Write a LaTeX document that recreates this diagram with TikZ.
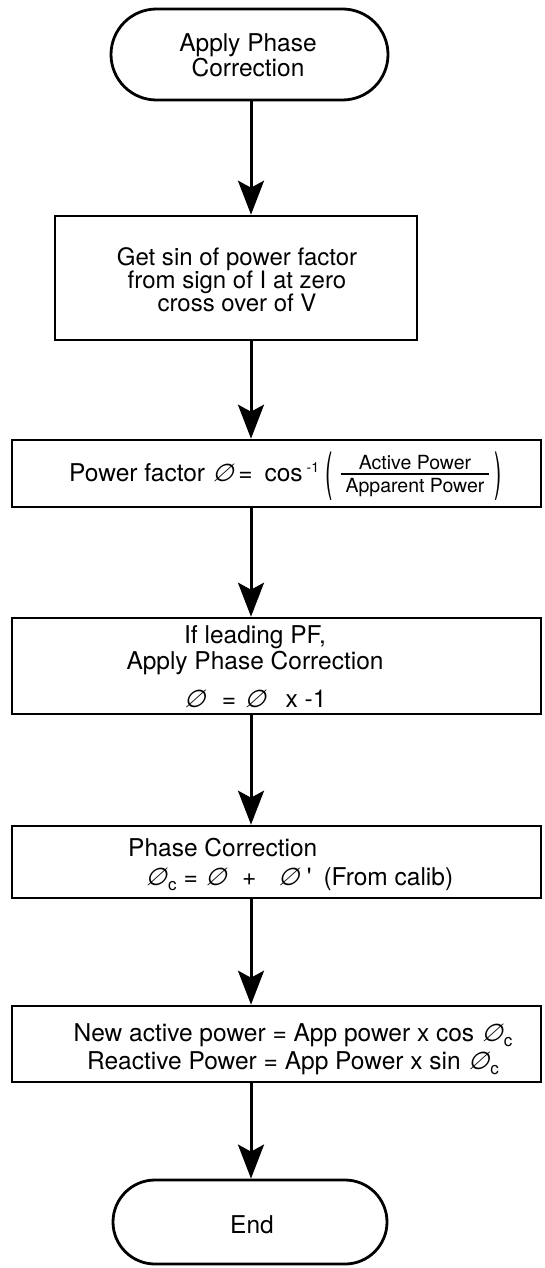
\documentclass[tikz,border=0pt]{standalone}
\usepackage{fontspec}
\setmainfont{TeX Gyre Heros}
\newfontfamily\phifont[FakeSlant=0.3]{DejaVu Sans}
\usetikzlibrary{shapes.misc,arrows.meta}
\newcommand\phis{{\phifont ∅}}
\newcommand\subc{\kern1.5pt\raisebox{-5pt}{\fontsize{17}{17}\selectfont c}}
\begin{document}
\begin{tikzpicture}[x=1pt,y=-1pt,
  box/.style={draw, line width=2.6pt, inner sep=0pt},
  term/.style={draw, line width=2.8pt, rounded rectangle, inner sep=0pt},
  txt/.style={font=\fontsize{24.5}{25}\selectfont, inner sep=0pt, align=center},
  frc/.style={font=\fontsize{19.5}{10}\selectfont, inner sep=0pt},
  paren/.style={font=\fontsize{24.5}{25}\selectfont, inner sep=0pt},
  arr/.style={line width=3pt, -{Stealth[length=34pt,width=26pt,inset=7pt]}}]
\useasboundingbox (0,0) rectangle (544,1268);
\coordinate (col) at (251,0);
% shapes
\node[term, minimum width=277pt, minimum height=91pt] (start) at (249.5,54.5) {};
\node[box, minimum width=362pt, minimum height=124pt] (b1) at (236,278) {};
\node[box, minimum width=529pt, minimum height=67pt] (b2) at (276.5,473.5) {};
\node[box, minimum width=529pt, minimum height=96pt] (b3) at (276.5,666) {};
\node[box, minimum width=529pt, minimum height=72pt] (b4) at (276.5,862) {};
\node[box, minimum width=529pt, minimum height=76pt] (b5) at (276.5,1044) {};
\node[term, minimum width=274pt, minimum height=84pt] (end) at (250,1222) {};
% texts
\node[txt] (t0) at (248,55.5) {Apply Phase\\Correction};
\node[txt, font=\fontsize{24}{23}\selectfont] (t1) at (237,280) {Get sin of power factor\\from sign of I at zero\\cross over of V};
\node[txt, anchor=west] (t2) at (69,472) {Power factor \phis\hspace{5pt}=\hspace{12pt}cos\hspace{4pt}\raisebox{9pt}{\fontsize{14}{14}\selectfont -1}};
\node[paren] (t2l) at (329,476) {\scalebox{0.9}[2.1]{(}};
\node[frc] (t2f) at (415,476) {\setlength\arrayrulewidth{2.2pt}\setlength\tabcolsep{5pt}\begin{tabular}{c}Active Power\\\hline\rule{0pt}{17pt}Apparent Power\end{tabular}};
\node[paren] (t2r) at (498,476) {\scalebox{0.9}[2.1]{)}};
\node[txt, font=\fontsize{24.5}{26}\selectfont] (t3) at (255,667) {If leading PF,\\Apply Phase Correction\\[12pt]\phis\hspace{17pt}=\hspace{8pt}\phis\hspace{20pt}x -1};
\node[txt, anchor=west] (t4a) at (128,848) {Phase Correction};
\node[txt, anchor=west] (t4b) at (145,879) {\phis\subc\hspace{7pt}=\hspace{7pt}\phis\hspace{16pt}+\hspace{21pt}\phis\hspace{8pt}\textquotesingle\hspace{12pt}(From calib)};
\node[txt, font=\fontsize{24.5}{28}\selectfont] (t5) at (293,1049) {New active power = App power x cos \phis\subc\\Reactive Power = App Power x sin \phis\subc};
\node[txt] (te) at (252,1225) {End};
% connectors
\draw[arr] (start.south -| col) -- (b1.north -| col);
\draw[arr] (b1.south -| col) -- (b2.north -| col);
\draw[arr] (b2.south -| col) -- (b3.north -| col);
\draw[arr] (b3.south -| col) -- (b4.north -| col);
\draw[arr] (b4.south -| col) -- (b5.north -| col);
\draw[arr] (b5.south -| col) -- (end.north -| col);
\end{tikzpicture}
\end{document}
